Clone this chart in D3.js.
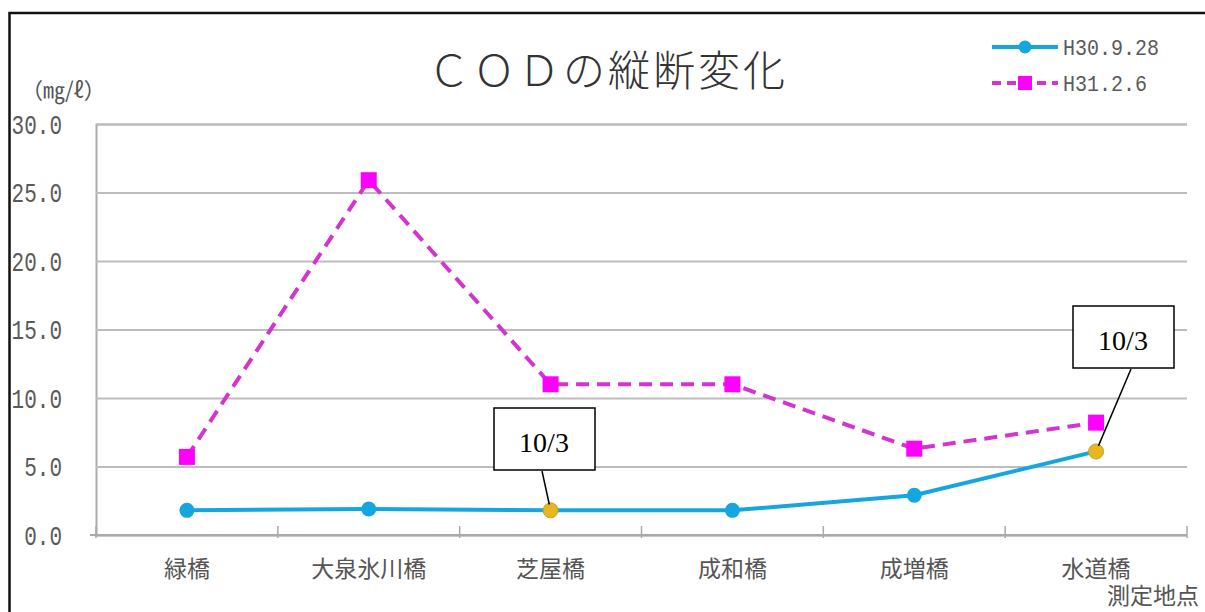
<!DOCTYPE html>
<html lang="ja">
<head>
<meta charset="utf-8">
<script src="https://cdn.jsdelivr.net/npm/d3@7"></script>
<style>
  html, body { margin: 0; padding: 0; background: #fff; }
  svg { display: block; }
</style>
</head>
<body>
<svg id="chart" width="1205" height="612"></svg>
<script>
// 測定地点（上流 → 下流）
const sites = ["緑橋", "大泉氷川橋", "芝屋橋", "成和橋", "成増橋", "水道橋"];
// COD (mg/L) — 調査日ごとの値
const seriesNames = ["H30.9.28", "H31.2.6"];
const codSep = [1.8, 1.9, 1.8, 1.8, 2.9, 6.1];
const codFeb = [5.7, 25.9, 11.0, 11.0, 6.3, 8.2];
// 9/28 の調査のうち 10/3 に測定した地点
const lateSites = ["芝屋橋", "水道橋"];
const lateLabel = "10/3";
const yTicks = [0, 5, 10, 15, 20, 25, 30];

const svg = d3.select("#chart");
const W = 1205, H = 612;
const plot = { left: 96, right: 1187, top: 124, bottom: 535 };

// outer frame
svg.append("rect")
  .attr("x", 9.5).attr("y", 13).attr("width", W + 10).attr("height", H + 10)
  .attr("fill", "#fff").attr("stroke", "#111").attr("stroke-width", 2.5);

const x = d3.scaleBand().domain(sites).range([plot.left, plot.right]).paddingInner(0).paddingOuter(0);
const y = d3.scaleLinear().domain([0, 30]).range([plot.bottom, plot.top]);
const cx = s => x(s) + x.bandwidth() / 2;

// title
svg.append("text")
  .attr("x", 608).attr("y", 86)
  .attr("text-anchor", "middle")
  .attr("font-family", "'Noto Sans CJK JP', sans-serif")
  .attr("font-size", 42).attr("font-weight", 300).attr("fill", "#333")
  .attr("letter-spacing", 3)
  .text("ＣＯＤの縦断変化");

// unit label
svg.append("text")
  .attr("x", 21).attr("y", 98)
  .attr("font-family", "'Noto Sans CJK JP', sans-serif")
  .attr("font-size", 22).attr("fill", "#555")
  .text("（㎎/ℓ）");

// y axis with gridlines
const yAxis = d3.axisLeft(y)
  .tickValues(yTicks)
  .tickFormat(d3.format(".1f"))
  .tickSize(-(plot.right - plot.left))
  .tickPadding(34);
const gy = svg.append("g").attr("transform", `translate(${plot.left},0)`).call(yAxis);
gy.select(".domain").attr("stroke", "#aaa").attr("stroke-width", 2);
gy.selectAll(".tick line").attr("stroke", "#bdbdbd").attr("stroke-width", 2);
gy.selectAll(".tick text")
  .attr("font-family", "'Liberation Mono', 'DejaVu Sans Mono', monospace")
  .attr("font-size", 21).attr("fill", "#5a5a5a")
  .attr("transform", "scale(1,1.35)");

// x axis (category boundaries as ticks)
const gx = svg.append("g").attr("transform", `translate(0,${plot.bottom})`);
gx.append("line")
  .attr("x1", plot.left - 6).attr("x2", plot.right)
  .attr("stroke", "#aaa").attr("stroke-width", 2);
gx.selectAll("line.bound")
  .data(sites.concat([null]))
  .join("line")
  .attr("class", "bound")
  .attr("x1", (d, i) => i < sites.length ? x(d) : plot.right)
  .attr("x2", (d, i) => i < sites.length ? x(d) : plot.right)
  .attr("y1", -9).attr("y2", 3)
  .attr("stroke", "#aaa").attr("stroke-width", 1.5);
gx.selectAll("text.cat")
  .data(sites)
  .join("text")
  .attr("class", "cat")
  .attr("x", d => cx(d)).attr("y", 42)
  .attr("text-anchor", "middle")
  .attr("font-family", "'Noto Sans CJK JP', sans-serif")
  .attr("font-size", 23).attr("fill", "#555")
  .text(d => d);

// axis title
svg.append("text")
  .attr("x", 1107).attr("y", 604)
  .attr("font-family", "'Noto Sans CJK JP', sans-serif")
  .attr("font-size", 23).attr("fill", "#555")
  .text("測定地点");

// series lines
const line = d3.line().x(d => cx(d.site)).y(d => y(d.v));
const sepData = sites.map((s, i) => ({ site: s, v: codSep[i] }));
const febData = sites.map((s, i) => ({ site: s, v: codFeb[i] }));

const blue = "#15a6e0", pinkLine = "#d334d0", pink = "#ff00ff";
const gold = "#e8b61e";

svg.append("path").datum(febData)
  .attr("d", line).attr("fill", "none")
  .attr("stroke", pinkLine).attr("stroke-width", 4)
  .attr("stroke-dasharray", "13,8");
svg.selectAll("rect.feb").data(febData).join("rect")
  .attr("class", "feb")
  .attr("x", d => cx(d.site) - 8).attr("y", d => y(d.v) - 8)
  .attr("width", 16).attr("height", 16)
  .attr("fill", pink);

svg.append("path").datum(sepData)
  .attr("d", line).attr("fill", "none")
  .attr("stroke", blue).attr("stroke-width", 4);
svg.selectAll("circle.sep").data(sepData).join("circle")
  .attr("class", "sep")
  .attr("cx", d => cx(d.site)).attr("cy", d => y(d.v))
  .attr("r", 7.5)
  .attr("fill", d => lateSites.includes(d.site) ? gold : blue)
  .attr("stroke", d => lateSites.includes(d.site) ? "#c9a227" : "none")
  .attr("stroke-width", 1);

// callouts for late measurements
const callouts = [
  { site: "芝屋橋", bx: 494, by: 408, lx: 542 },
  { site: "水道橋", bx: 1073, by: 306, lx: 1131 }
];
callouts.forEach(c => {
  const d = sepData.find(p => p.site === c.site);
  const px = cx(d.site), py = y(d.v);
  const ang = Math.atan2(py - (c.by + 63), px - c.lx);
  svg.append("line")
    .attr("x1", c.lx).attr("y1", c.by + 63)
    .attr("x2", px - Math.cos(ang) * 6).attr("y2", py - Math.sin(ang) * 6)
    .attr("stroke", "#000").attr("stroke-width", 1.5);
  svg.append("rect")
    .attr("x", c.bx).attr("y", c.by).attr("width", 101).attr("height", 62)
    .attr("fill", "#fff").attr("stroke", "#000").attr("stroke-width", 1.5);
  svg.append("text")
    .attr("x", c.bx + 50).attr("y", c.by + 44)
    .attr("text-anchor", "middle")
    .attr("font-family", "'Liberation Serif', 'Times New Roman', serif")
    .attr("font-size", 28).attr("fill", "#000")
    .text(lateLabel);
});

// legend
const lg = svg.append("g");
const legendRows = [
  { name: seriesNames[0], y: 47, kind: "circle" },
  { name: seriesNames[1], y: 83, kind: "square" }
];
legendRows.forEach(r => {
  if (r.kind === "circle") {
    lg.append("line").attr("x1", 992).attr("x2", 1058).attr("y1", r.y).attr("y2", r.y)
      .attr("stroke", blue).attr("stroke-width", 4);
    lg.append("circle").attr("cx", 1025).attr("cy", r.y).attr("r", 6.5).attr("fill", blue);
  } else {
    lg.append("line").attr("x1", 992).attr("x2", 1058).attr("y1", r.y).attr("y2", r.y)
      .attr("stroke", pinkLine).attr("stroke-width", 4).attr("stroke-dasharray", "9,6");
    lg.append("rect").attr("x", 1018).attr("y", r.y - 7).attr("width", 14).attr("height", 14)
      .attr("fill", pink);
  }
  lg.append("text")
    .attr("x", 1063).attr("y", r.y + 7)
    .attr("font-family", "'Liberation Mono', 'DejaVu Sans Mono', monospace")
    .attr("font-size", 20).attr("fill", "#5a5a5a")
    .attr("transform", `translate(0,${r.y}) scale(1,1.1) translate(0,${-r.y})`)
    .text(r.name);
});
</script>
</body>
</html>
